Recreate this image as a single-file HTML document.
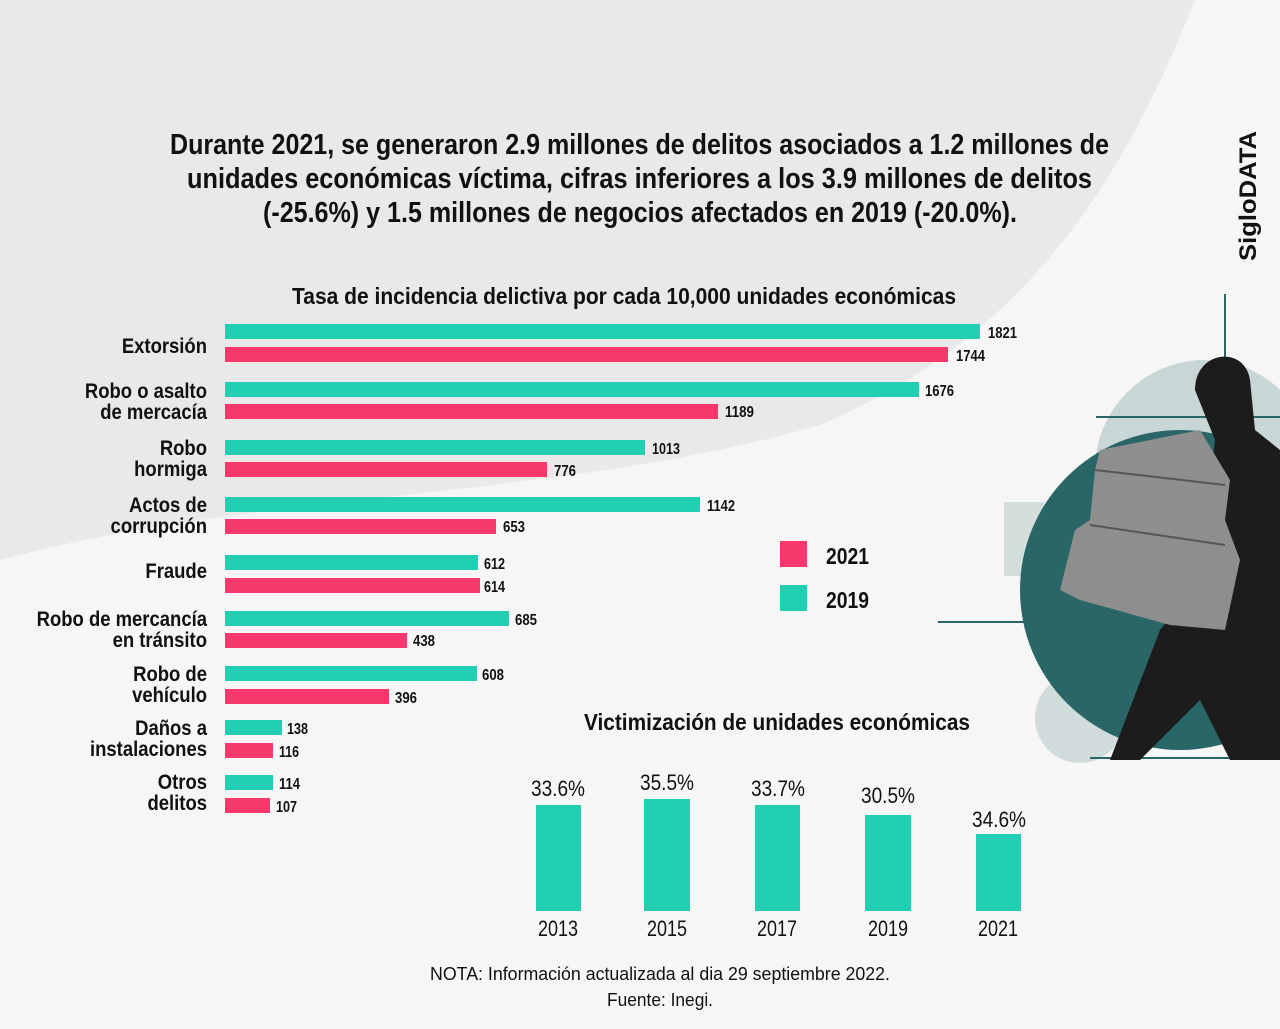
<!DOCTYPE html>
<html><head><meta charset="utf-8"><style>
body{margin:0;width:1280px;height:1024px;overflow:hidden;background:#f6f6f6;font-family:"Liberation Sans",sans-serif;}
svg text{font-family:"Liberation Sans",sans-serif;font-weight:bold;fill:#111;}
svg text.n{font-weight:normal;}
</style></head><body>
<svg width="1280" height="1024" viewBox="0 0 1280 1024" xmlns="http://www.w3.org/2000/svg">
<rect width="1280" height="1024" fill="#f6f6f6"/>
<path d="M0 0 H1195 C1120 190 1020 340 820 425 C560 500 260 490 0 560 Z" fill="#e9e9e9"/>
<!-- title -->
<g font-size="29">
<text x="170" y="154" textLength="939" lengthAdjust="spacingAndGlyphs">Durante 2021, se generaron 2.9 millones de delitos asociados a 1.2 millones de</text>
<text x="187" y="188" textLength="905" lengthAdjust="spacingAndGlyphs">unidades económicas víctima, cifras inferiores a los 3.9 millones de delitos</text>
<text x="263" y="222" textLength="754" lengthAdjust="spacingAndGlyphs">(-25.6%) y 1.5 millones de negocios afectados en 2019 (-20.0%).</text>
</g>
<text x="1256" y="196" font-size="24" text-anchor="middle" transform="rotate(-90 1256 196)" textLength="130" lengthAdjust="spacingAndGlyphs">SigloDATA</text>
<text x="292" y="304" font-size="23" textLength="664" lengthAdjust="spacingAndGlyphs">Tasa de incidencia delictiva por cada 10,000 unidades económicas</text>
<!-- illustration -->
<circle cx="1205" cy="470" r="110" fill="#c9d6d6"/>
<rect x="1004" y="502" width="40" height="74" fill="#d4dedd"/>
<circle cx="1080" cy="718" r="45" fill="#d0dbdb"/>
<circle cx="1180" cy="590" r="160" fill="#2a6567"/>
<line x1="1225" y1="294" x2="1225" y2="418" stroke="#2a6567" stroke-width="2"/>
<line x1="1096" y1="417" x2="1280" y2="417" stroke="#2a6567" stroke-width="2"/>
<line x1="938" y1="622" x2="1040" y2="622" stroke="#2a6567" stroke-width="2"/>
<line x1="1090" y1="758" x2="1280" y2="758" stroke="#2a6567" stroke-width="2"/>
<path d="M1195 390 C1195 350 1245 345 1250 380 L1255 430 L1280 450 V760 H1230 L1200 700 L1140 760 H1110 L1160 630 L1200 580 L1215 440 Z" fill="#1c1c1c"/>
<path d="M1100 450 L1200 430 L1230 480 L1225 520 L1240 560 L1225 630 L1170 625 L1080 600 L1060 590 L1075 530 L1090 520 L1095 470 Z" fill="#8e8e8e"/>
<path d="M1095 470 L1225 485 M1090 525 L1225 545" stroke="#555" stroke-width="2"/>
<!-- bars -->
<g font-size="21" text-anchor="end" transform="translate(207 0) scale(0.88 1) translate(-207 0)">
<text x="207" y="353">Extorsión</text>
<text x="207" y="398">Robo o asalto</text><text x="207" y="419">de mercacía</text>
<text x="207" y="455">Robo</text><text x="207" y="476">hormiga</text>
<text x="207" y="512">Actos de</text><text x="207" y="533">corrupción</text>
<text x="207" y="578">Fraude</text>
<text x="207" y="626">Robo de mercancía</text><text x="207" y="647">en tránsito</text>
<text x="207" y="681">Robo de</text><text x="207" y="702">vehículo</text>
<text x="207" y="735">Daños a</text><text x="207" y="756">instalaciones</text>
<text x="207" y="789">Otros</text><text x="207" y="810">delitos</text>
</g>
<g fill="#22cfb2">
<rect x="225" y="324" width="755" height="15"/>
<rect x="225" y="382" width="694" height="15"/>
<rect x="225" y="440" width="420" height="15"/>
<rect x="225" y="497" width="475" height="15"/>
<rect x="225" y="555" width="253" height="15"/>
<rect x="225" y="611" width="284" height="15"/>
<rect x="225" y="666" width="252" height="15"/>
<rect x="225" y="720" width="57" height="15"/>
<rect x="225" y="775" width="48" height="15"/>
</g>
<g fill="#f7386a">
<rect x="225" y="347" width="723" height="15"/>
<rect x="225" y="404" width="493" height="15"/>
<rect x="225" y="462" width="322" height="15"/>
<rect x="225" y="519" width="271" height="15"/>
<rect x="225" y="578" width="255" height="15"/>
<rect x="225" y="633" width="182" height="15"/>
<rect x="225" y="689" width="164" height="15"/>
<rect x="225" y="743" width="48" height="15"/>
<rect x="225" y="798" width="45" height="15"/>
</g>
<g font-size="16">
<text x="988" y="338" textLength="29" lengthAdjust="spacingAndGlyphs">1821</text><text x="956" y="361" textLength="29" lengthAdjust="spacingAndGlyphs">1744</text>
<text x="925" y="396" textLength="29" lengthAdjust="spacingAndGlyphs">1676</text><text x="725" y="417" textLength="29" lengthAdjust="spacingAndGlyphs">1189</text>
<text x="652" y="454" textLength="28" lengthAdjust="spacingAndGlyphs">1013</text><text x="554" y="476" textLength="22" lengthAdjust="spacingAndGlyphs">776</text>
<text x="707" y="511" textLength="28" lengthAdjust="spacingAndGlyphs">1142</text><text x="503" y="532" textLength="22" lengthAdjust="spacingAndGlyphs">653</text>
<text x="484" y="569" textLength="21" lengthAdjust="spacingAndGlyphs">612</text><text x="484" y="592" textLength="21" lengthAdjust="spacingAndGlyphs">614</text>
<text x="515" y="625" textLength="22" lengthAdjust="spacingAndGlyphs">685</text><text x="413" y="646" textLength="22" lengthAdjust="spacingAndGlyphs">438</text>
<text x="482" y="680" textLength="22" lengthAdjust="spacingAndGlyphs">608</text><text x="395" y="703" textLength="22" lengthAdjust="spacingAndGlyphs">396</text>
<text x="287" y="734" textLength="21" lengthAdjust="spacingAndGlyphs">138</text><text x="279" y="757" textLength="20" lengthAdjust="spacingAndGlyphs">116</text>
<text x="279" y="789" textLength="21" lengthAdjust="spacingAndGlyphs">114</text><text x="276" y="812" textLength="21" lengthAdjust="spacingAndGlyphs">107</text>
</g>
<!-- legend -->
<rect x="780" y="541" width="27" height="26" fill="#f7386a"/>
<rect x="780" y="585" width="27" height="26" fill="#22cfb2"/>
<text x="826" y="564" font-size="23" textLength="43" lengthAdjust="spacingAndGlyphs">2021</text>
<text x="826" y="608" font-size="23" textLength="43" lengthAdjust="spacingAndGlyphs">2019</text>
<!-- victim chart -->
<text x="584" y="730" font-size="23" textLength="386" lengthAdjust="spacingAndGlyphs">Victimización de unidades económicas</text>
<g fill="#22cfb2">
<rect x="536" y="805" width="45" height="106"/>
<rect x="644" y="799" width="46" height="112"/>
<rect x="755" y="805" width="45" height="106"/>
<rect x="865" y="815" width="46" height="96"/>
<rect x="976" y="834" width="45" height="77"/>
</g>
<g font-size="22">
<text class="n" x="531" y="796" textLength="54" lengthAdjust="spacingAndGlyphs">33.6%</text>
<text class="n" x="640" y="790" textLength="54" lengthAdjust="spacingAndGlyphs">35.5%</text>
<text class="n" x="751" y="796" textLength="54" lengthAdjust="spacingAndGlyphs">33.7%</text>
<text class="n" x="861" y="803" textLength="54" lengthAdjust="spacingAndGlyphs">30.5%</text>
<text class="n" x="972" y="827" textLength="54" lengthAdjust="spacingAndGlyphs">34.6%</text>
<text class="n" x="538" y="936" textLength="40" lengthAdjust="spacingAndGlyphs">2013</text>
<text class="n" x="647" y="936" textLength="40" lengthAdjust="spacingAndGlyphs">2015</text>
<text class="n" x="757" y="936" textLength="40" lengthAdjust="spacingAndGlyphs">2017</text>
<text class="n" x="868" y="936" textLength="40" lengthAdjust="spacingAndGlyphs">2019</text>
<text class="n" x="978" y="936" textLength="40" lengthAdjust="spacingAndGlyphs">2021</text>
</g>
<text class="n" x="430" y="980" font-size="18" textLength="460" lengthAdjust="spacingAndGlyphs">NOTA: Información actualizada al dia 29 septiembre 2022.</text>
<text class="n" x="607" y="1006" font-size="18" textLength="106" lengthAdjust="spacingAndGlyphs">Fuente: Inegi.</text>
</svg>
</body></html>
